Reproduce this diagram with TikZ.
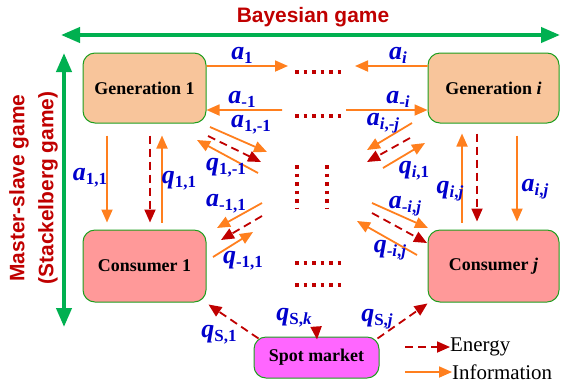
\documentclass[tikz,border=0pt]{standalone}
\usepackage{fontspec}
\setmainfont{Liberation Serif}
\setsansfont{Liberation Sans}
\usetikzlibrary{arrows.meta, positioning}
\definecolor{boxgreen}{HTML}{1E9E1E}
\definecolor{gamegreen}{HTML}{00B050}
\definecolor{infoorange}{HTML}{FF7F1E}
\definecolor{energyred}{HTML}{C00000}
\definecolor{labelblue}{HTML}{0000CC}
\definecolor{genfill}{HTML}{F8C59B}
\definecolor{confill}{HTML}{FF9999}
\definecolor{spotfill}{HTML}{FF66FF}
\tikzstyle{block} = [draw=boxgreen, line width=1bp, rectangle, rounded corners=12bp, font=\fontsize{18}{20}\selectfont\bfseries]
\tikzstyle{info} = [->, draw=infoorange, line width=1.8bp]
\tikzstyle{energy} = [->, draw=energyred, line width=1.8bp, dash pattern=on 8bp off 5bp]
\tikzstyle{game} = [<->, draw=gamegreen, line width=4bp, >={Triangle[length=19bp,width=15bp]}]
\tikzstyle{lbl} = [text=labelblue, inner sep=0pt]
\tikzstyle{dots} = [draw=energyred, line width=3.8bp, dash pattern=on 3.8bp off 4.7bp]
\newcommand{\sy}[2]{\textbf{\textit{#1}}\raisebox{-4bp}{\fontsize{17}{17}\selectfont\bfseries #2}}
\newcommand{\iv}[1]{\textit{#1}}

\begin{document}
\begin{tikzpicture}[x=1bp, y=-1bp, >={Triangle[length=13bp,width=11bp]}, font=\fontsize{26}{27}\selectfont]
  \useasboundingbox (0,0) rectangle (561,385);
  \node [block, fill=genfill, minimum width=123bp, minimum height=70bp] (gen1) at (144.5,88) {Generation 1};
  \node [block, fill=genfill, minimum width=131bp, minimum height=70bp, right of=gen1, node distance=349bp] (genI) {Generation \iv{i}};
  \node [block, fill=confill, minimum width=123bp, minimum height=72bp, below of=gen1, node distance=178bp] (con1) {Consumer 1};
  \node [block, fill=confill, minimum width=131bp, minimum height=72bp, below of=genI, node distance=178bp] (conJ) {Consumer \iv{j}};
  \node [block, fill=spotfill, minimum width=125bp, minimum height=41bp] (spot) at (316.5,357.5) {Spot market};

  \node [text=energyred, font=\fontsize{21}{22}\selectfont\sffamily\bfseries] (bayes) at (313,17) {Bayesian game};
  \node [text=energyred, font=\fontsize{21}{22}\selectfont\sffamily\bfseries, rotate=90] (master) at (19,188) {Master-slave game};
  \node [text=energyred, font=\fontsize{21}{22}\selectfont\sffamily\bfseries, rotate=90] (stack) at (48,188) {(Stackelberg game)};
  \coordinate (hl) at (61,35);
  \coordinate (hr) at (560,35);
  \coordinate (vt) at (64,53);
  \coordinate (vb) at (64,327);
  \draw [game] (hl) -- (hr);
  \draw [game] (vb) -- (vt);

  \coordinate (t1) at (288,66);
  \coordinate (ti) at (355,66);
  \coordinate (s1) at (282,110);
  \coordinate (si) at (346,110);
  \draw [info] ([yshift=22bp]gen1.east) -- (t1);
  \draw [info] ([yshift=22bp]genI.west) -- (ti);
  \draw [info] (s1) -- ([yshift=-22bp]gen1.east);
  \draw [info] (si) -- ([yshift=-22bp]genI.west);
  \node [lbl] (a1) at (242,55) {\sy{a}{1}};
  \node [lbl] (ai) at (398,55) {\sy{a}{\iv{i}}};
  \node [lbl] (am1) at (242,99) {\sy{a}{-1}};
  \node [lbl] (ami) at (398,99) {\sy{a}{-\iv{i}}};

  \draw [info] ([xshift=-37.5bp,yshift=-12bp]gen1.south) -- ([xshift=-37.5bp,yshift=7bp]con1.north);
  \draw [energy] ([xshift=5.5bp,yshift=-12bp]gen1.south) -- ([xshift=5.5bp,yshift=7bp]con1.north);
  \draw [info] ([xshift=17.5bp,yshift=7bp]con1.north) -- ([xshift=17.5bp,yshift=-12bp]gen1.south);
  \node [lbl] (a11) at (90,178) {\sy{a}{1,1}};
  \node [lbl] (q11) at (179,181) {\sy{q}{1,1}};

  \draw [info] ([xshift=-31.5bp,yshift=7bp]conJ.north) -- ([xshift=-31.5bp,yshift=-10bp]genI.south);
  \draw [energy] ([xshift=-16.5bp,yshift=-10bp]genI.south) -- ([xshift=-16.5bp,yshift=8bp]conJ.north);
  \draw [info] ([xshift=23.5bp,yshift=-12bp]genI.south) -- ([xshift=23.5bp,yshift=8bp]conJ.north);
  \node [lbl] (qij) at (450,191) {\sy{q}{\iv{i},\iv{j}}};
  \node [lbl] (aij) at (535,189) {\sy{a}{\iv{i},\iv{j}}};

  \coordinate (ua1) at (210,127);
  \coordinate (ua2) at (267,152);
  \coordinate (ue1) at (208,136);
  \coordinate (ue2) at (261,162);
  \coordinate (uq1) at (258,173);
  \coordinate (uq2) at (197,140);
  \draw [info] (ua1) -- (ua2);
  \draw [energy] (ue1) -- (ue2);
  \draw [info] (uq1) -- (uq2);
  \node [lbl] (a1m1) at (251,125) {\sy{a}{1,-1}};
  \node [lbl] (q1m1) at (226,168) {\sy{q}{1,-1}};

  \coordinate (la1) at (262,203);
  \coordinate (la2) at (217,228);
  \coordinate (le1) at (262,216);
  \coordinate (le2) at (221,240);
  \coordinate (lq1) at (213,257);
  \coordinate (lq2) at (253,232);
  \draw [info] (la1) -- (la2);
  \draw [energy] (le1) -- (le2);
  \draw [info] (lq1) -- (lq2);
  \node [lbl] (am11) at (226,204) {\sy{a}{-1,1}};
  \node [lbl] (qm11) at (243,261) {\sy{q}{-1,1}};

  \coordinate (ra1) at (412,123);
  \coordinate (ra2) at (367,150);
  \coordinate (re1) at (410,138);
  \coordinate (re2) at (367,162);
  \coordinate (rq1) at (383,168);
  \coordinate (rq2) at (425,143);
  \draw [info] (ra1) -- (ra2);
  \draw [energy] (re1) -- (re2);
  \draw [info] (rq1) -- (rq2);
  \node [lbl] (aimj) at (383,123) {\sy{a}{\iv{i},-\iv{j}}};
  \node [lbl] (qi1) at (414,171) {\sy{q}{\iv{i},1}};

  \coordinate (ba1) at (372,203);
  \coordinate (ba2) at (428,228);
  \coordinate (be1) at (372,213);
  \coordinate (be2) at (427,243);
  \coordinate (bq1) at (417,255);
  \coordinate (bq2) at (357,221);
  \draw [info] (ba1) -- (ba2);
  \draw [energy] (be1) -- (be2);
  \draw [info] (bq1) -- (bq2);
  \node [lbl] (amij) at (405,206) {\sy{a}{-\iv{i},\iv{j}}};
  \node [lbl] (qmij) at (390,250) {\sy{q}{-\iv{i},\iv{j}}};

  \draw [dots] (295,72) -- (341,72);
  \draw [dots] (295,116) -- (341,116);
  \draw [dots] (297,165) -- (297,209);
  \draw [dots] (327,165) -- (327,209);
  \draw [dots] (295,263) -- (341,263);
  \draw [dots] (295,285) -- (341,285);

  \draw [energy] ([xshift=5bp,yshift=-2bp]spot.north west) -- ([xshift=2bp,yshift=-2bp]con1.south east);
  \draw [energy] ([yshift=4bp]spot.north) -- ([xshift=0.5bp,yshift=-37bp]spot.north |- con1.south);
  \draw [energy] ([xshift=-2bp,yshift=-2bp]spot.north east) -- ([yshift=-1bp]conJ.south west);
  \node [lbl] (qs1) at (219,335) {\sy{q}{S,1}};
  \node [lbl] (qsk) at (294,318) {\sy{q}{S,\iv{k}}};
  \node [lbl] (qsj) at (377,319) {\sy{q}{S,\iv{j}}};

  \node [anchor=west, inner sep=0pt, font=\fontsize{21}{22}\selectfont] (energy) at (450,347) {Energy};
  \node [anchor=west, inner sep=0pt, font=\fontsize{21}{22}\selectfont] (information) at (452,372) {Information};
  \coordinate (le) at (405,347);
  \coordinate (li) at (405,372);
  \draw [energy] (le) -- (energy.west);
  \draw [info] (li) -- (information.west);
\end{tikzpicture}
\end{document}
